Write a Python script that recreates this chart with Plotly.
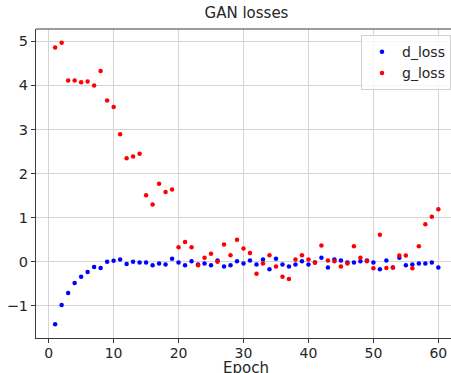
import plotly.graph_objects as go

epochs = list(range(1, 61))

d_loss = [-1.42, -0.98, -0.71, -0.48, -0.34, -0.23, -0.12, -0.14, 0.00, 0.02,
          0.05, -0.05, 0.00, -0.02, -0.02, -0.08, -0.04, -0.06, 0.07, -0.02,
          -0.08, 0.01, -0.06, -0.04, -0.08, 0.03, -0.11, -0.08, 0.01, -0.04,
          0.03, -0.06, 0.05, -0.17, 0.07, -0.06, -0.11, -0.06, 0.01, -0.06,
          -0.02, 0.09, -0.13, 0.05, 0.03, -0.02, -0.02, 0.01, 0.03, -0.02,
          -0.17, 0.03, -0.13, 0.09, -0.08, -0.06, -0.04, -0.04, -0.02, -0.13]

g_loss = [4.86, 4.97, 4.11, 4.11, 4.07, 4.09, 4.00, 4.33, 3.66, 3.51,
          2.89, 2.35, 2.39, 2.45, 1.51, 1.30, 1.77, 1.58, 1.64, 0.33,
          0.45, 0.33, -0.08, 0.09, 0.18, 0.00, 0.39, 0.15, 0.50, 0.30,
          0.20, -0.27, -0.04, 0.15, -0.11, -0.34, -0.39, 0.05, 0.15, 0.05,
          -0.02, 0.37, 0.03, 0.01, -0.11, -0.04, 0.35, 0.09, 0.01, -0.15,
          0.61, -0.14, -0.13, 0.14, 0.14, -0.15, 0.35, 0.85, 1.02, 1.19]

x_ticks = [0, 10, 20, 30, 40, 50, 60]
y_ticks = [-1, 0, 1, 2, 3, 4, 5]
y_tick_labels = ["\u22121", "0", "1", "2", "3", "4", "5"]

FONT = "DejaVu Sans"
AXIS_COLOR = "#3a3a3a"
GRID_COLOR = "#d4d4d4"

fig = go.Figure()
fig.add_trace(go.Scatter(x=epochs, y=d_loss, mode="markers", name="d_loss",
                         marker=dict(color="#0000ff", size=4.5)))
fig.add_trace(go.Scatter(x=epochs, y=g_loss, mode="markers", name="g_loss",
                         marker=dict(color="#ff0000", size=4.5)))

fig.update_layout(
    width=451, height=373,
    margin=dict(l=36, r=0, t=29, b=35, autoexpand=False),
    paper_bgcolor="white", plot_bgcolor="white",
    font=dict(family=FONT, size=14, color="#262626"),
    title=dict(text="GAN losses", x=246.5 / 451, xref="container", xanchor="center",
               y=1 - 13 / 373, yref="container", yanchor="middle",
               font=dict(family=FONT, size=15, color="#262626")),
    showlegend=True,
    legend=dict(x=1, y=0.98, xanchor="right", yanchor="top",
                bgcolor="rgba(255,255,255,0.8)", bordercolor="#d0d0d0", borderwidth=1,
                font=dict(family=FONT, size=14, color="#262626"),
                itemsizing="trace"),
    xaxis=dict(range=[-1.95, 61.95], tickmode="array", tickvals=x_ticks,
               showgrid=True, gridcolor=GRID_COLOR, gridwidth=1,
               showline=True, linecolor=AXIS_COLOR, linewidth=1, automargin=False,
               ticks="outside", ticklen=4, tickcolor=AXIS_COLOR, zeroline=False,
               tickfont=dict(size=14), ticklabelstandoff=-2),
    yaxis=dict(range=[-1.73, 5.28], tickmode="array", tickvals=y_ticks,
               ticktext=y_tick_labels, tickfont=dict(size=14.5), automargin=False,
               showgrid=True, gridcolor=GRID_COLOR, gridwidth=1,
               showline=True, linecolor=AXIS_COLOR, linewidth=1,
               ticks="outside", ticklen=4, tickcolor=AXIS_COLOR, zeroline=False),
    annotations=[dict(text="Epoch", xref="paper", yref="paper",
                      x=(246 - 36) / 415, y=(338 - 368) / 309,
                      xanchor="center", yanchor="middle", showarrow=False,
                      font=dict(family=FONT, size=15, color="#262626"))],
)

fig.add_shape(type="line", xref="paper", yref="paper", x0=0, x1=1, y0=1, y1=1,
              line=dict(color=AXIS_COLOR, width=1))

fig.write_html("out.html")
